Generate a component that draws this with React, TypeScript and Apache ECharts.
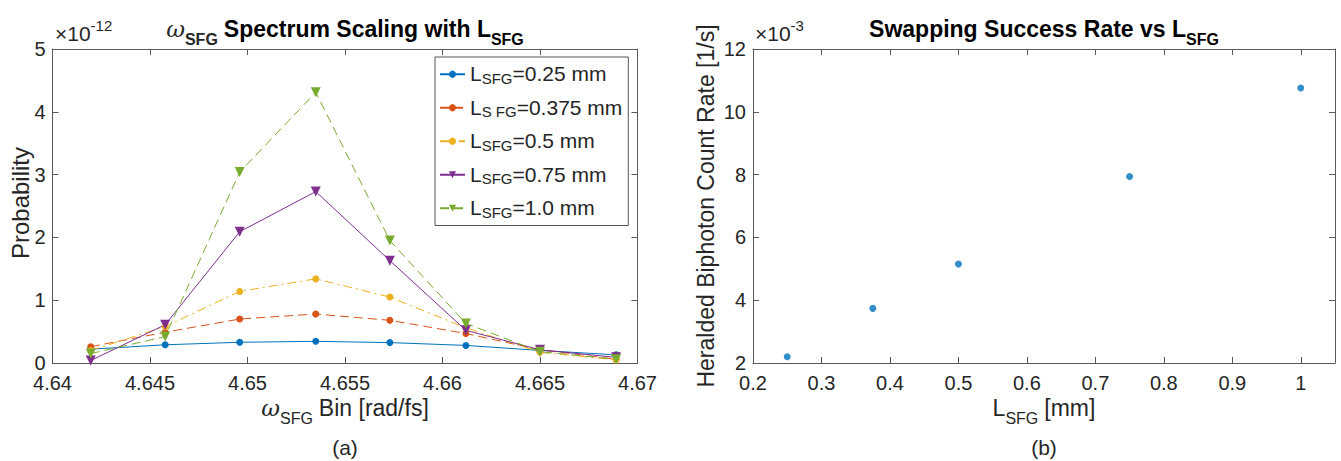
import React, { useEffect, useRef } from 'react';
import * as echarts from 'echarts';

// ---------- data ----------
const binCenters = [4.64196, 4.64578, 4.6496, 4.6535, 4.6573, 4.6612, 4.665, 4.6689];
const prob025 = [0.22, 0.29, 0.33, 0.345, 0.325, 0.28, 0.2, 0.13];
const prob0375 = [0.26, 0.49, 0.7, 0.78, 0.68, 0.47, 0.21, 0.06];
const prob05 = [0.2, 0.58, 1.14, 1.34, 1.05, 0.56, 0.17, 0.05];
const prob075 = [0.04, 0.61, 2.09, 2.73, 1.63, 0.52, 0.21, 0.09];
const prob10 = [0.15, 0.42, 3.04, 4.31, 1.95, 0.63, 0.18, 0.06];

const legendSubs = ['SFG', 'S FG', 'SFG', 'SFG', 'SFG'];
const legendValues = ['0.25', '0.375', '0.5', '0.75', '1.0'];

const lengthsMM = [0.25, 0.375, 0.5, 0.75, 1.0];
const heraldedRate = [2.2, 3.74, 5.15, 7.94, 10.76];

// ---------- styles ----------
const FONT = '"Liberation Sans", Arial, Helvetica, sans-serif';
const AXIS = '#5a5a5a';
const LABEL = '#262626';
const seriesStyles = [
  { color: '#0072BD', symbol: 'circle', size: 7, rotate: 0, dash: 'solid' as any },
  { color: '#D95319', symbol: 'circle', size: 7, rotate: 0, dash: [9, 5] as any },
  { color: '#EDB120', symbol: 'circle', size: 7, rotate: 0, dash: [9, 4, 2, 4] as any },
  { color: '#7E2F8E', symbol: 'triangle', size: 10, rotate: 180, dash: 'solid' as any },
  { color: '#77AC30', symbol: 'triangle', size: 10, rotate: 180, dash: [9, 5] as any },
];
const probSeries = [prob025, prob0375, prob05, prob075, prob10];

// ---------- text helpers ----------
let _ctx: CanvasRenderingContext2D | null = null;
function tw(t: string, size: number, weight = 'normal', family = FONT, fstyle = 'normal') {
  if (!_ctx) _ctx = document.createElement('canvas').getContext('2d');
  _ctx!.font = `${fstyle} ${weight} ${size}px ${family}`;
  return _ctx!.measureText(t).width;
}
type Seg = { t: string; size: number; weight?: string; family?: string; fstyle?: string; dy?: number; gap?: number; color?: string };
function segText(x: number, y: number, list: Seg[], align: 'left' | 'center') {
  const widths = list.map((s) => (s.gap || 0) + tw(s.t, s.size, s.weight, s.family, s.fstyle));
  const total = widths.reduce((a, b) => a + b, 0);
  let cx = align === 'center' ? x - total / 2 : x;
  return list.map((s, i) => {
    const el = {
      type: 'text',
      x: cx + (s.gap || 0),
      y: y + (s.dy || 0),
      silent: true,
      style: {
        text: s.t,
        fontSize: s.size,
        fontWeight: s.weight || 'normal',
        fontFamily: s.family || FONT,
        fontStyle: s.fstyle || 'normal',
        fill: s.color || LABEL,
        textAlign: 'left',
        textVerticalAlign: 'middle',
        align: 'left',
        verticalAlign: 'middle',
      },
    };
    cx += widths[i];
    return el;
  });
}

function mkAxis(gridIndex: number, position: string, min: number, max: number, interval: number, labels: boolean, formatter?: any, showMax = true, margin = 8) {
  return {
    type: 'value',
    gridIndex,
    position,
    min,
    max,
    interval,
    axisLine: { show: true, onZero: false, lineStyle: { color: AXIS, width: 1 } },
    axisTick: { show: true, inside: true, length: 6, lineStyle: { color: AXIS, width: 1 } },
    axisLabel: { show: labels, fontSize: 20, color: LABEL, margin, fontFamily: FONT, formatter, showMaxLabel: showMax, showMinLabel: true },
    splitLine: { show: false },
  };
}

export default function App() {
  const ref = useRef<HTMLDivElement>(null);
  useEffect(() => {
    if (!ref.current) return;
    const chart = echarts.init(ref.current, undefined, { renderer: 'svg' });

    const names = legendValues.map((v, i) => `L_${legendSubs[i]}=${v} mm`);
    const series: any[] = probSeries.map((vals, i) => {
      const st = seriesStyles[i];
      return {
        name: names[i],
        type: 'line',
        xAxisIndex: 0,
        yAxisIndex: 0,
        data: binCenters.map((x, k) => [x, vals[k]]),
        symbol: st.symbol,
        symbolSize: st.size,
        symbolRotate: st.rotate,
        showAllSymbol: true,
        lineStyle: { color: st.color, width: 1, type: st.dash },
        itemStyle: { color: st.color },
        color: st.color,
      };
    });
    series.push({
      name: 'rate',
      type: 'scatter',
      xAxisIndex: 2,
      yAxisIndex: 2,
      data: lengthsMM.map((x, k) => [x, heraldedRate[k]]),
      symbol: 'circle',
      symbolSize: 7,
      itemStyle: { color: '#0072BD' },
    });

    const fx3 = (v: number) => String(Number(v.toFixed(3)));
    const fx1 = (v: number) => String(Number(v.toFixed(1)));
    const fy = (v: number) => String(Number(v.toFixed(0)));

    const graphic: any[] = [
      // left title
      ...segText(345, 29, [
        { t: 'ω', size: 23, family: '"DejaVu Serif", serif', fstyle: 'italic' },
        { t: 'SFG', size: 16, weight: 'bold', dy: 10 },
        { t: 'Spectrum Scaling with L', size: 23, weight: 'bold', gap: 6, color: '#000' },
        { t: 'SFG', size: 16, weight: 'bold', dy: 10, color: '#000' },
      ], 'center'),
      // right title
      ...segText(1044, 29, [
        { t: 'Swapping Success Rate vs L', size: 23, weight: 'bold', color: '#000' },
        { t: 'SFG', size: 16, weight: 'bold', dy: 10, color: '#000' },
      ], 'center'),
      // exponent labels
      ...segText(55, 33, [
        { t: '×10', size: 21 },
        { t: '-12', size: 15, dy: -8 },
      ], 'left'),
      ...segText(755, 33, [
        { t: '×10', size: 21 },
        { t: '-3', size: 15, dy: -8 },
      ], 'left'),
      // x axis names
      ...segText(345, 408, [
        { t: 'ω', size: 23, family: '"DejaVu Serif", serif', fstyle: 'italic' },
        { t: 'SFG', size: 16, dy: 10 },
        { t: 'Bin [rad/fs]', size: 23, gap: 6 },
      ], 'center'),
      ...segText(1044, 408, [
        { t: 'L', size: 23 },
        { t: 'SFG', size: 16, dy: 10 },
        { t: '[mm]', size: 23, gap: 6 },
      ], 'center'),
      // panel labels
      ...segText(345, 447, [{ t: '(a)', size: 21 }], 'center'),
      ...segText(1044, 447, [{ t: '(b)', size: 21 }], 'center'),
      // y axis names
      {
        type: 'text', x: 20, y: 203, rotation: Math.PI / 2, silent: true,
        style: { text: 'Probability', fontSize: 24, fontFamily: FONT, fill: LABEL, textAlign: 'center', textVerticalAlign: 'middle', align: 'center', verticalAlign: 'middle' },
      },
      {
        type: 'text', x: 706, y: 206, rotation: Math.PI / 2, silent: true,
        style: { text: 'Heralded Biphoton Count Rate [1/s]', fontSize: 23, fontFamily: FONT, fill: LABEL, textAlign: 'center', textVerticalAlign: 'middle', align: 'center', verticalAlign: 'middle' },
      },
    ];

    const option: any = {
      animation: false,
      textStyle: { fontFamily: FONT },
      grid: [
        { left: 52.5, top: 49, width: 585, height: 314 },
        { left: 753, top: 49, width: 582, height: 314 },
      ],
      xAxis: [
        mkAxis(0, 'bottom', 4.64, 4.67, 0.005, true, fx3, true, 10),
        mkAxis(0, 'top', 4.64, 4.67, 0.005, false),
        mkAxis(1, 'bottom', 0.2, 1.05, 0.1, true, fx1, false, 10),
        mkAxis(1, 'top', 0.2, 1.05, 0.1, false),
      ],
      yAxis: [
        mkAxis(0, 'left', 0, 5, 1, true, fy, true, 7),
        mkAxis(0, 'right', 0, 5, 1, false),
        mkAxis(1, 'left', 2, 12, 2, true, fy, true, 7),
        mkAxis(1, 'right', 2, 12, 2, false),
      ],
      legend: {
        data: names,
        orient: 'vertical',
        left: 435,
        top: 57,
        itemWidth: 25,
        itemHeight: 9,
        itemGap: 11,
        padding: [6, 6, 6, 4],
        borderColor: '#555',
        borderWidth: 1,
        backgroundColor: '#fff',
        selectedMode: false,
        formatter: (name: string) => {
          const i = names.indexOf(name);
          return `{b|L}{s|${legendSubs[i]}}{b|=${legendValues[i]} mm}`;
        },
        textStyle: {
          color: LABEL,
          fontFamily: FONT,
          rich: {
            b: { fontSize: 21, lineHeight: 22.5, verticalAlign: 'top', color: LABEL, fontFamily: FONT },
            s: { fontSize: 15, lineHeight: 6, verticalAlign: 'bottom', color: LABEL, fontFamily: FONT },
          },
        },
      },
      series,
      graphic,
    };
    chart.setOption(option);
    return () => chart.dispose();
  }, []);
  return <div ref={ref} style={{ position: 'fixed', left: 0, top: 0, width: 1341, height: 461, background: '#fff' }} />;
}
